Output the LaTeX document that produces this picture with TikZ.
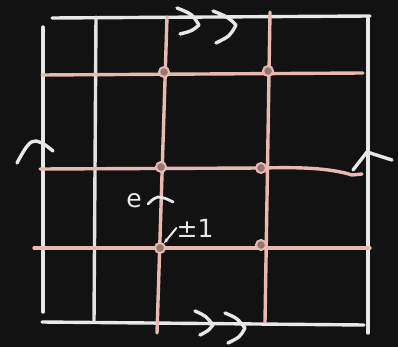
\documentclass[tikz,border=0pt]{standalone}
\usepackage{fontspec}
\setmainfont{DejaVu Sans}
\usetikzlibrary{arrows.meta}
\definecolor{board}{HTML}{121212}
\definecolor{chalk}{HTML}{E6E8EA}
\definecolor{pinkchalk}{HTML}{E9B9AF}
\tikzset{
  chalkline/.style={draw=chalk, line width=3.4pt, line cap=round, line join=round},
  pinkline/.style={draw=pinkchalk, line width=3.4pt, line cap=round, line join=round},
  vertex/.style={circle, draw=pinkchalk, fill=pinkchalk!60!board, line width=2pt, minimum size=10pt, inner sep=0pt},
  handtext/.style={text=chalk, inner sep=0pt, font=\fontsize{25}{25}\selectfont}
}
\begin{document}
\begin{tikzpicture}[x=1pt,y=-1pt]
\fill[board] (0,0) rectangle (398,347);
\useasboundingbox (0,0) rectangle (398,347);
% outer square corners
\coordinate (tl) at (52,18);
\coordinate (tr) at (370,16);
\coordinate (lt) at (43,27);
\coordinate (lb) at (43,312);
\coordinate (rt) at (368,18);
\coordinate (rb) at (368,333);
\coordinate (bl) at (42,322);
\coordinate (br) at (364,325);
\coordinate (it) at (96,17);
\coordinate (ib) at (94,322);
% pink line ends
\coordinate (h1l) at (42,75);
\coordinate (h1r) at (363,73);
\coordinate (h2l) at (40,169);
\coordinate (h2r) at (362,174);
\coordinate (h3l) at (34,248);
\coordinate (h3r) at (370,248);
\coordinate (v1t) at (167,17);
\coordinate (v1b) at (157,333);
\coordinate (v2t) at (270,12);
\coordinate (v2b) at (265,322);
% white frame
\draw[chalkline] (tl) -- (tr);
\draw[chalkline] (lt) -- (lb);
\draw[chalkline] (rt) -- (rb);
\draw[chalkline] (bl) -- (br);
\draw[chalkline, draw=chalk!85!pinkchalk] (it) -- (ib);
% pink grid
\draw[pinkline] (h1l) -- (h1r);
\draw[pinkline] (h2l) -- (262,168) .. controls (300,167) and (330,168) .. (352,175) -- (h2r);
\draw[pinkline] (h3l) -- (h3r);
\draw[pinkline] (v1t) -- (v1b);
\draw[pinkline] (v2t) -- (v2b);
% vertices
\node[vertex] (a1) at (164,72) {};
\node[vertex] (a2) at (268,71) {};
\node[vertex] (b1) at (161,167) {};
\node[vertex] (b2) at (261,168) {};
\node[vertex] (c1) at (160,248) {};
\node[vertex] (c2) at (261,245) {};
% top double chevrons
\draw[chalkline] (177,8) .. controls (192,14) .. (199,25) .. controls (192,31) .. (180,34);
\draw[chalkline] (213,11) .. controls (228,17) .. (236,25) .. controls (230,36) .. (216,43);
% bottom double chevrons
\draw[chalkline] (195,311) .. controls (206,316) .. (213,325) .. controls (208,331) .. (200,335);
\draw[chalkline] (225,313) .. controls (237,318) .. (245,328) .. controls (240,337) .. (228,343);
% side arrowheads
\draw[chalkline] (17,163) .. controls (25,148) and (30,140) .. (36,141) .. controls (43,143) .. (53,151);
\draw[chalkline] (353,170) -- (367,152) -- (392,160);
% labels
\node[handtext] (e) at (134,201) {e};
\draw[chalkline, line width=2.8pt] (148,204) .. controls (153,199) .. (158,197) .. controls (165,198) .. (173,202);
\node[handtext] (pm) at (195,228) {±1};
\draw[chalkline, line width=2pt, -{Stealth[length=5pt]}] (pm.west) -- (c1);
\end{tikzpicture}
\end{document}
